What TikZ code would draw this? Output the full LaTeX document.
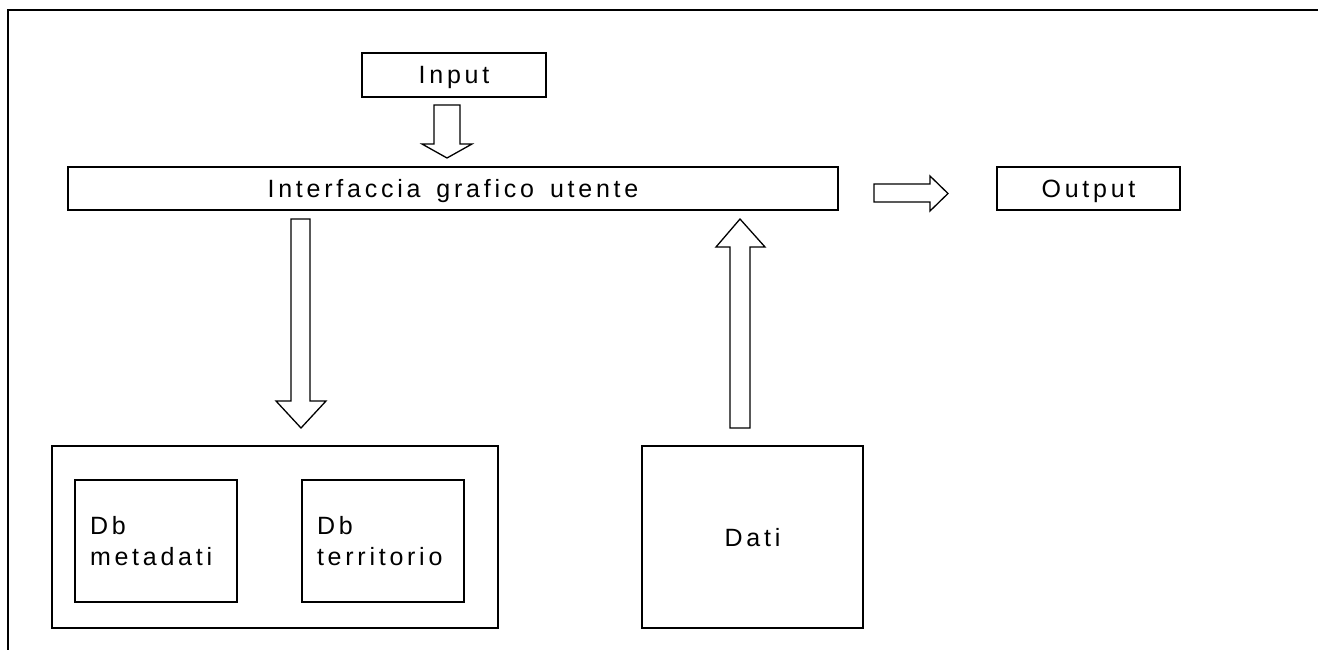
\documentclass[tikz,border=0pt]{standalone}
\usepackage{fontspec}
\setmainfont[LetterSpace=15,WordSpace=1.5]{Liberation Sans}
\tikzset{
  box/.style={draw, line width=1.4pt, rectangle, inner sep=0pt,
    font=\fontsize{25}{31}\selectfont},
  onebox/.style={box, text depth=0pt},
  dbbox/.style={box, minimum width=160, minimum height=122,
    text width=132, inner xsep=15pt, align=left},
  blockarrow/.style={draw, line width=1.3pt, fill=white, line join=miter},
  frameline/.style={line width=1.4pt}
}
\begin{document}
\begin{tikzpicture}[x=1pt,y=-1pt]
\useasboundingbox (0,0) rectangle (1318,650);
% frame
\draw[frameline] (1318,10) -- (8,10) -- (8,650);
% boxes
\node[onebox, minimum width=184, minimum height=44] (input) at (454,75) {Input};
\node[onebox, minimum width=770, minimum height=43] (gui) at (453,188.5) {Interfaccia grafico utente};
\node[onebox, minimum width=183, minimum height=43] (output) at (1088.5,188.5) {Output};
\node[box, minimum width=446, minimum height=182] (db) at (275,537) {};
\node[dbbox] (meta) at (156,541) {Db\\metadati};
\node[dbbox] (terr) at (383,541) {Db\\territorio};
\node[onebox, minimum width=221, minimum height=182] (dati) at (752.5,537) {Dati};
% block arrows
\draw[blockarrow] (434,105) -- (460,105) -- (460,144) -- (472,144) -- (447,158) -- (422,144) -- (434,144) -- cycle;
\draw[blockarrow] (291,219) -- (310,219) -- (310,401) -- (326,401) -- (301,428) -- (276,401) -- (291,401) -- cycle;
\draw[blockarrow] (730,428) -- (750,428) -- (750,247) -- (765,247) -- (740,219) -- (716,247) -- (730,247) -- cycle;
\draw[blockarrow] (874,184) -- (930,184) -- (930,176) -- (948,193.5) -- (930,211) -- (930,202) -- (874,202) -- cycle;
\end{tikzpicture}
\end{document}
